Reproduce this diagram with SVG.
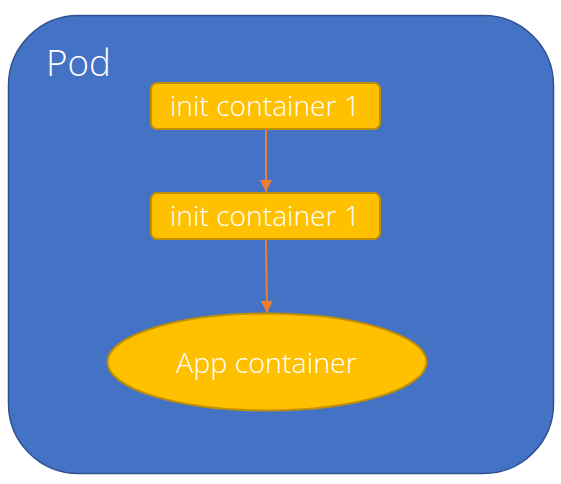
<svg xmlns="http://www.w3.org/2000/svg" width="561" height="484" viewBox="0 0 561 484">
<style>
.t{font-family:"Open Sans","Noto Sans",sans-serif;font-weight:300;fill:#fff;}
.box{fill:#FFC000;stroke:#BF9000;stroke-width:2;}
.c{stroke:#ED7D31;stroke-width:2;fill:none;marker-end:url(#ah);}
</style>
<defs>
<marker id="ah" markerWidth="14" markerHeight="14" refX="12" refY="6" orient="auto" markerUnits="userSpaceOnUse">
<path d="M0,0 L12,6 L0,12 Z" fill="#ED7D31"/>
</marker>
</defs>
<rect width="561" height="484" fill="#fff"/>
<g id="pod">
<rect x="8.5" y="15.5" width="545" height="458" rx="70" ry="70" fill="#4472C4" stroke="#2F528F" stroke-width="1.5"/>
<text class="t" x="46" y="76" font-size="37" textLength="65" lengthAdjust="spacingAndGlyphs">Pod</text>
</g>
<g id="connectors">
<line class="c" x1="266" y1="130" x2="266" y2="192"/>
<line class="c" x1="266" y1="240" x2="267" y2="313"/>
</g>
<g id="init1">
<rect class="box" x="151" y="83" width="229" height="46" rx="6"/>
<text class="t" x="170" y="116" font-size="27" textLength="190" lengthAdjust="spacingAndGlyphs">init container 1</text>
</g>
<g id="init2">
<rect class="box" x="151" y="193" width="229" height="46" rx="6"/>
<text class="t" x="170" y="226" font-size="27" textLength="190" lengthAdjust="spacingAndGlyphs">init container 1</text>
</g>
<g id="app">
<ellipse class="box" cx="267" cy="362" rx="159.5" ry="48.5"/>
<text class="t" x="176" y="373" font-size="27" textLength="181" lengthAdjust="spacingAndGlyphs">App container</text>
</g>
</svg>
